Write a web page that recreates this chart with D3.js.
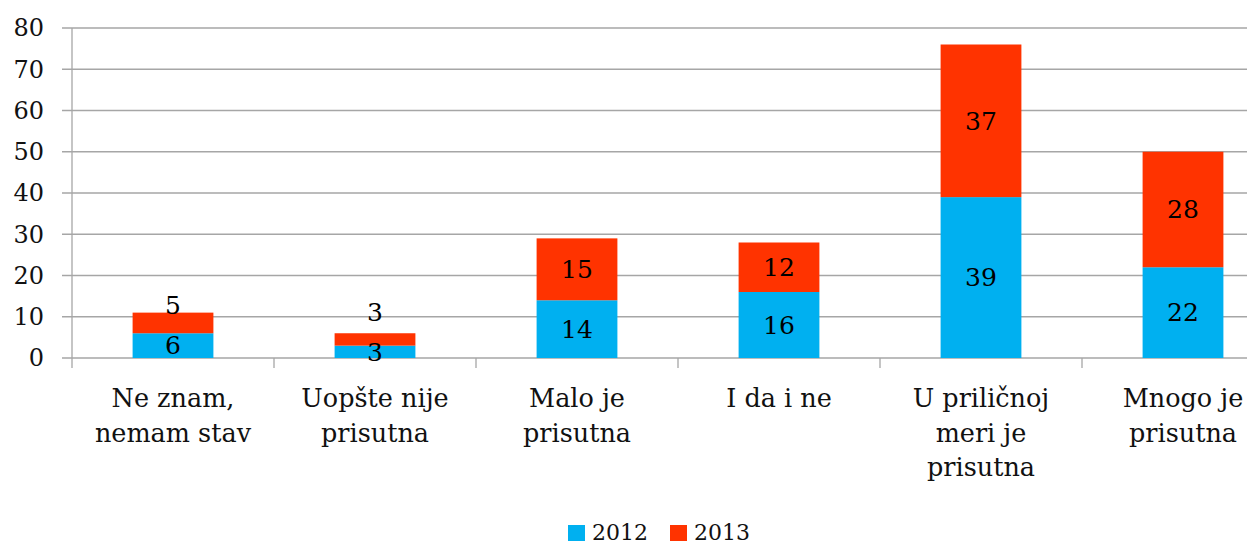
<!DOCTYPE html>
<html>
<head>
<meta charset="utf-8">
<script src="https://cdn.jsdelivr.net/npm/d3@7"></script>
<style>
  body { margin: 0; background: #fff; }
  svg { display: block; font-family: "DejaVu Serif", "Liberation Serif", serif; font-variant-numeric: oldstyle-nums; }
</style>
</head>
<body>
<svg id="chart"></svg>
<script>
const categories = [
  ['Ne znam,', 'nemam stav'],
  ['Uopšte nije', 'prisutna'],
  ['Malo je', 'prisutna'],
  ['I da i ne'],
  ['U priličnoj', 'meri je', 'prisutna'],
  ['Mnogo je', 'prisutna']
]
const values2012 = [6, 3, 14, 16, 39, 22]
const values2013 = [5, 3, 15, 12, 37, 28]
const yTicks = [0, 10, 20, 30, 40, 50, 60, 70, 80]
const seriesNames = ['2012', '2013']
const colors = ['#00B0F0', '#FF3300']

const width = 1247
const height = 547
const svg = d3.select('#chart')
  .attr('width', width)
  .attr('height', height)

// plot runs past the right edge, as in the original crop
const x = d3.scaleBand()
  .domain(d3.range(categories.length))
  .range([72, 1284])
  .paddingInner(0.6)
  .paddingOuter(0.3)

const y = d3.scaleLinear()
  .domain([0, 80])
  .range([358, 28])

// gridlines
svg.append('g')
  .selectAll('line')
  .data(yTicks)
  .join('line')
  .attr('x1', 62)
  .attr('x2', width)
  .attr('y1', d => y(d))
  .attr('y2', d => y(d))
  .attr('stroke', '#a6a6a6')
  .attr('stroke-width', 1.3)

// y axis line
svg.append('line')
  .attr('x1', 72).attr('x2', 72)
  .attr('y1', y(80)).attr('y2', y(0) + 10)
  .attr('stroke', '#a6a6a6')
  .attr('stroke-width', 1.3)

// category ticks
const step = x.step()
svg.append('g')
  .selectAll('line')
  .data(d3.range(1, categories.length + 1))
  .join('line')
  .attr('x1', i => 72 + i * step)
  .attr('x2', i => 72 + i * step)
  .attr('y1', y(0))
  .attr('y2', y(0) + 10)
  .attr('stroke', '#a6a6a6')
  .attr('stroke-width', 1.3)

// y labels
svg.append('g')
  .selectAll('text')
  .data(yTicks)
  .join('text')
  .attr('x', 44)
  .attr('y', d => y(d))
  .attr('dy', '0.35em')
  .attr('text-anchor', 'end')
  .attr('font-size', 24)
  .attr('fill', '#111')
  .text(d => d)

// bars
const rows = categories.map((c, i) => ({i, a: values2012[i], b: values2013[i]}))
const bars = svg.append('g')
bars.selectAll('rect.a')
  .data(rows)
  .join('rect')
  .attr('class', 'a')
  .attr('x', d => x(d.i))
  .attr('width', x.bandwidth())
  .attr('y', d => y(d.a))
  .attr('height', d => y(0) - y(d.a))
  .attr('fill', colors[0])
bars.selectAll('rect.b')
  .data(rows)
  .join('rect')
  .attr('class', 'b')
  .attr('x', d => x(d.i))
  .attr('width', x.bandwidth())
  .attr('y', d => y(d.a + d.b))
  .attr('height', d => y(d.a) - y(d.a + d.b))
  .attr('fill', colors[1])

// value labels, bumped up when they would overlap
const labels = svg.append('g')
  .attr('text-anchor', 'middle')
  .attr('font-size', 25)
  .attr('fill', '#000')
rows.forEach(d => {
  const cx = x(d.i) + x.bandwidth() / 2
  const ca = (y(0) + y(d.a)) / 2
  const cb = Math.min((y(d.a) + y(d.a + d.b)) / 2, ca - 40)
  labels.append('text').attr('x', cx).attr('y', ca).attr('dy', '0.35em').text(d.a)
  labels.append('text').attr('x', cx).attr('y', cb).attr('dy', '0.35em').text(d.b)
})

// category labels
const cats = svg.append('g')
  .attr('text-anchor', 'middle')
  .attr('font-size', 25.5)
  .attr('fill', '#111')
categories.forEach((lines, i) => {
  const t = cats.append('text')
    .attr('x', x(i) + x.bandwidth() / 2)
    .attr('y', 407)
  lines.forEach((l, k) => {
    t.append('tspan')
      .attr('x', x(i) + x.bandwidth() / 2)
      .attr('y', 407 + k * 34.5)
      .text(l)
  })
})

// legend
const legend = svg.append('g')
  .attr('font-size', 22)
  .attr('fill', '#111')
const legendX = [568, 670]
seriesNames.forEach((name, i) => {
  legend.append('rect')
    .attr('x', legendX[i])
    .attr('y', 525)
    .attr('width', 17)
    .attr('height', 16)
    .attr('fill', colors[i])
  legend.append('text')
    .attr('x', legendX[i] + 24)
    .attr('y', 540)
    .text(name)
})
</script>
</body>
</html>
